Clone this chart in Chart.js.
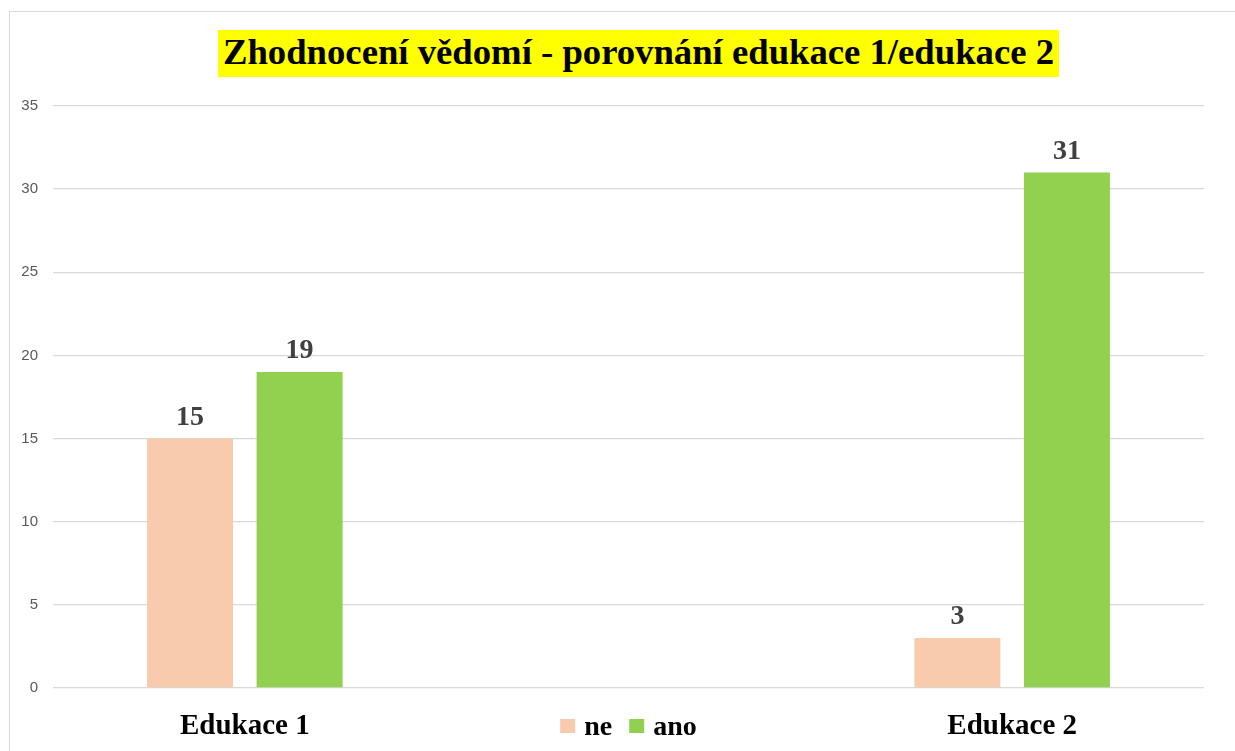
<!DOCTYPE html>
<html>
<head>
<meta charset="utf-8">
<title>Zhodnocení vědomí</title>
<script src="https://cdn.jsdelivr.net/npm/chart.js@4"></script>
<style>
  html, body { margin: 0; padding: 0; background: #ffffff; overflow: hidden; }
  #frame {
    position: absolute; left: 9px; top: 11px; width: 1300px; height: 800px;
    border: 1px solid #d9d9d9;
  }
  #titleRow {
    position: absolute; left: 0; top: 30px; width: 1277px; text-align: center;
  }
  #titleRow span {
    display: inline-block; background: #ffff00; padding: 0 5px;
    height: 47px; line-height: 47px;
    font: bold 36.7px "Liberation Serif", "Times New Roman", serif; color: #000;
  }
  #wrap { position: absolute; left: 0; top: 0; width: 1235px; height: 751px; }
</style>
</head>
<body>
<div id="frame"></div>
<div id="titleRow"><span>Zhodnocení vědomí - porovnání edukace 1/edukace 2</span></div>
<div id="wrap"><canvas id="chart"></canvas></div>
<script>
// Data
const categories = ['Edukace 1', '', 'Edukace 2'];
const seriesNames = ['ne', 'ano'];
const neValues = [15, null, 3];
const anoValues = [19, null, 31];
const yTicks = [0, 5, 10, 15, 20, 25, 30, 35];

const serif = '"Liberation Serif", "Times New Roman", serif';

// Draw the numbers above the bars
const barLabels = {
  id: 'barLabels',
  afterDatasetsDraw(chart) {
    const ctx = chart.ctx;
    ctx.save();
    ctx.font = 'bold 28px ' + serif;
    ctx.fillStyle = '#404040';
    ctx.textAlign = 'center';
    ctx.textBaseline = 'alphabetic';
    chart.data.datasets.forEach((ds, i) => {
      chart.getDatasetMeta(i).data.forEach((bar, j) => {
        const v = ds.data[j];
        if (v === null || v === undefined) return;
        ctx.fillText(String(v), bar.x, bar.y - 14);
      });
    });
    ctx.restore();
  }
};

// Legend sits in the empty middle category, on the same row as the x labels
const rowLegend = {
  id: 'rowLegend',
  afterDraw(chart) {
    const ctx = chart.ctx;
    const xScale = chart.scales.x;
    const cx = xScale.getPixelForValue(1);
    const baseline = 735;
    const box = 15, gap = 9, spacing = 17;
    ctx.save();
    ctx.font = 'bold 28px ' + serif;
    const items = chart.data.datasets.map(ds => ({
      text: ds.label, color: ds.backgroundColor, w: ctx.measureText(ds.label).width
    }));
    let total = 0;
    items.forEach((it, i) => { total += box + gap + it.w + (i ? spacing : 0); });
    let x = cx - total / 2;
    items.forEach(it => {
      ctx.fillStyle = it.color;
      ctx.fillRect(x, baseline - 16, box, 14);
      x += box + gap;
      ctx.fillStyle = '#000000';
      ctx.textBaseline = 'alphabetic';
      ctx.fillText(it.text, x, baseline);
      x += it.w + spacing;
    });
    ctx.restore();
  }
};

const ctx = document.getElementById('chart').getContext('2d');
const chart = new Chart(ctx, {
  type: 'bar',
  data: {
    labels: categories,
    datasets: [
      { label: seriesNames[0], data: neValues, backgroundColor: '#f8cbad' },
      { label: seriesNames[1], data: anoValues, backgroundColor: '#92d050' }
    ]
  },
  options: {
    responsive: true,
    maintainAspectRatio: false,
    animation: false,
    layout: { padding: { top: 106, right: 31, bottom: 0, left: 0 } },
    datasets: {
      bar: { categoryPercentage: 0.571, barPercentage: 0.785 }
    },
    plugins: {
      legend: { display: false },
      title: { display: false },
      tooltip: { enabled: false }
    },
    scales: {
      x: {
        grid: { display: false },
        border: { display: false },
        ticks: {
          color: '#000000',
          padding: 13,
          maxRotation: 0,
          font: { family: serif, size: 29, weight: 'bold' }
        },
        afterFit(scale) { scale.height = 63; }
      },
      y: {
        min: 0,
        max: 35,
        afterBuildTicks(scale) { scale.ticks = yTicks.map(v => ({ value: v })); },
        grid: { color: '#d9d9d9', lineWidth: 1.3, drawTicks: false },
        border: { display: false },
        ticks: {
          color: '#595959',
          padding: 15,
          font: { family: '"Liberation Sans", Arial, sans-serif', size: 15 }
        },
        afterFit(scale) { scale.width = 53; }
      }
    }
  },
  plugins: [barLabels, rowLegend]
});
</script>
</body>
</html>
